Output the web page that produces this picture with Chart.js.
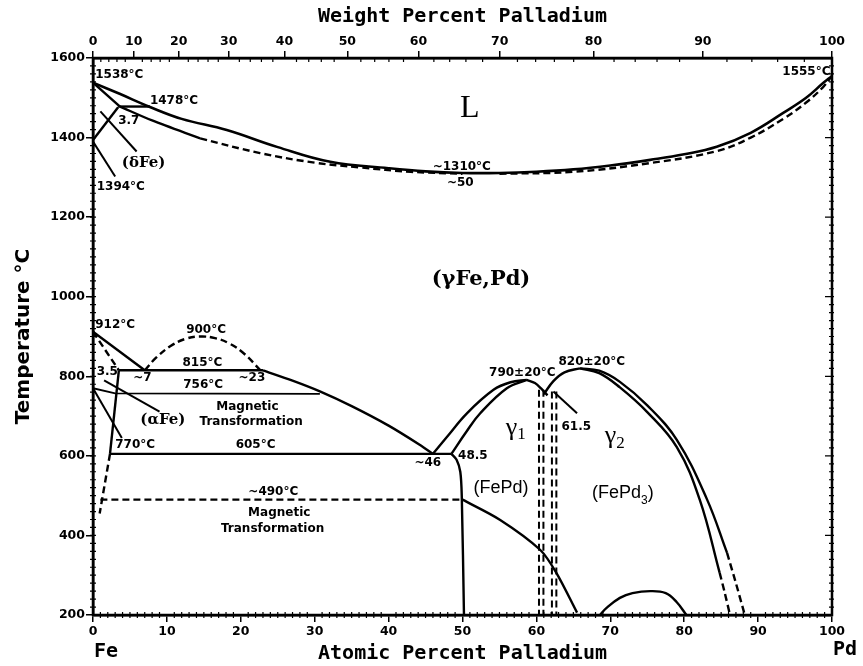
<!DOCTYPE html>
<html>
<head>
<meta charset="utf-8">
<script src="https://cdn.jsdelivr.net/npm/chart.js@4.4.0/dist/chart.umd.min.js"></script>
<style>
  html, body { margin: 0; padding: 0; background: #fff; }
  #wrap { width: 863px; height: 666px; }
</style>
</head>
<body>
<div id="wrap"><canvas id="phaseChart" width="863" height="666"></canvas></div>
<script>
// Top axis tick labels (weight percent Pd)
const wtLabels = [0, 10, 20, 30, 40, 50, 60, 70, 80, 90, 100];
const atomicMassFe = 55.845;
const atomicMassPd = 106.42;

// Phase boundaries, [atomic % Pd, temperature °C]
const liquidus = [[0,1538],[3.6,1510],[7.7,1477],[12,1447],[18.1,1419],[25,1376],[32.1,1339],[40,1323],[45,1315],[50,1311],[55,1311],[60,1314],[65,1320],[70,1330],[75.4,1344],[80,1358],[84.4,1377],[89,1412],[93.4,1462],[96.5,1500],[98.8,1537],[100,1555]];
const solidusLeft = [[3.65,1478],[8,1443],[14.5,1398]];
const solidusLeftDash = [[14.5,1398],[22.6,1361],[30,1337],[36.1,1325],[43,1314],[50,1309]];
const solidusRightDash = [[55,1309],[65,1314],[75.4,1336],[84.4,1366],[89,1400],[93.4,1447],[96.5,1488],[98.8,1527],[100,1555]];
const deltaSolidus = [[0,1538],[3.65,1478]];
const peritectic = [[3.4,1478],[7.7,1478]];
const deltaGamma = [[0,1394],[3.4,1476]];
const deltaLeader = [[1.0,1466],[5.9,1365]];
const leader1394 = [[0,1390],[3.0,1302]];

const alpha912Dash = [[0,912],[3.5,815]];
const gamma912 = [[0,912],[7,815]];
const dome900 = [[7,815],[8.5,846],[10.5,876],[12.5,894],[14.5,900],[16.5,896],[18.5,882],[20.5,856],[22.6,816]];
const line815 = [[3.5,815],[23,815]];
const gammaAlpha = [[23,815],[27,789],[30.7,762],[35,725],[40,676],[44.2,628],[46,605]];
const curie756 = [[0,770],[3,757],[30.7,756]];
const leaderAlphaFe = [[1.5,790],[9,711]];
const leader770 = [[0,770],[3.9,645]];
const alphaSolid = [[3.5,815],[2.3,605]];
const alphaDash = [[2.3,605],[1.6,530],[0.9,455]];
const line605 = [[2.3,605],[48.5,605]];
const line490 = [[1,490],[50,490]];

const g1OuterLeft = [[46,605],[48,650],[50.6,707],[54.2,766],[56.5,785],[58.7,791]];
const g1InnerLeft = [[48.5,605],[50.5,660],[52.4,707],[56,770],[58.7,791]];
const g1Right = [[58.7,791],[59.8,783],[60.6,770],[61.5,752]];
const leader615 = [[62.3,762],[65.5,707]];
const g2Left = [[61,755],[62.3,788],[63.8,810],[65.9,820]];
const g2OuterRight = [[65.9,820],[68.5,814],[71.3,786],[75,727],[79,640],[83.1,490],[85.8,356]];
const g2OuterDash = [[85.8,356],[87,280],[88.2,200]];
const g2InnerRight = [[65.9,820],[68.5,808],[71.3,772],[75,710],[79,622],[82.1,490],[84.8,306]];
const g2InnerDash = [[84.8,306],[85.5,255],[86.2,200]];
const boundary485 = [[48.5,605],[49.2,590],[49.7,560],[49.9,500],[50.2,200]];
const orderLine = [[50,490],[55.1,439],[60.5,364],[62.7,306],[65.5,206]];
const vDash1a = [[60.35,766],[60.35,200]];
const vDash1b = [[60.95,766],[60.95,200]];
const vDash2a = [[62.1,762],[62.1,200]];
const vDash2b = [[62.7,762],[62.7,200]];
const bottomDome = [[68.6,200],[69.5,218],[71.3,243],[73,255],[75.4,260],[77.5,255],[79,232],[80.3,200]];

// Text labels: [text, atomic %, temperature, style, align]
const labels = [
    ['1538°C', 0.3, 1557, 'num', 'left'],
    ['1478°C', 7.7, 1492, 'num', 'left'],
    ['3.7', 3.4, 1442, 'num', 'left'],
    ['(δFe)', 3.9, 1335, 'numBig', 'left'],
    ['1394°C', 0.5, 1277, 'num', 'left'],
    ['L', 51, 1474, 'L', 'center'],
    ['~1310°C', 49.9, 1327, 'num', 'center'],
    ['~50', 49.7, 1287, 'num', 'center'],
    ['1555°C', 99.8, 1566, 'num', 'right'],
    ['(γFe,Pd)', 52.5, 1042, 'phase', 'center'],
    ['912°C', 0.3, 929, 'num', 'left'],
    ['900°C', 15.3, 917, 'num', 'center'],
    ['815°C', 14.8, 833, 'num', 'center'],
    ['~7', 6.7, 795, 'num', 'center'],
    ['~23', 21.5, 795, 'num', 'center'],
    ['3.5', 0.5, 812, 'num', 'left'],
    ['756°C', 14.9, 778, 'num', 'center'],
    ['Magnetic', 20.9, 724, 'num', 'center'],
    ['Transformation', 21.4, 686, 'num', 'center'],
    ['(αFe)', 6.4, 690, 'numBig', 'left'],
    ['770°C', 5.7, 628, 'num', 'center'],
    ['605°C', 22.0, 628, 'num', 'center'],
    ['~490°C', 24.4, 510, 'num', 'center'],
    ['Magnetic', 25.2, 456, 'num', 'center'],
    ['Transformation', 24.3, 416, 'num', 'center'],
    ['~46', 45.3, 582, 'num', 'center'],
    ['48.5', 49.4, 601, 'num', 'left'],
    ['790±20°C', 58.1, 808, 'num', 'center'],
    ['820±20°C', 67.5, 836, 'num', 'center'],
    ['61.5', 65.4, 673, 'num', 'center']
];

// Labels with a subscript: [main, sub, tail, atomic %, temperature, style]
const subLabels = [
    ['γ', '1', '', 57.2, 670, 'greek'],
    ['γ', '2', '', 70.6, 649, 'greek'],
    ['(FePd)', '', '', 55.2, 519, 'sans'],
    ['(FePd', '3', ')', 71.7, 506, 'sans']
];

const fonts = {
    num: 'bold 12px "DejaVu Sans"',
    numBig: 'bold 15px "DejaVu Serif"',
    L: '32px "Liberation Serif"',
    phase: 'bold 21px "DejaVu Serif"',
    greek: '26px "Liberation Serif"',
    greekSub: '17px "Liberation Serif"',
    sans: '18px "Liberation Sans"',
    sansSub: '12px "Liberation Sans"'
};

/**
 * Convert weight percent Pd to atomic percent Pd
 */
function wtToAt(w) {
    const pd = w / atomicMassPd;
    const fe = (100 - w) / atomicMassFe;
    return 100 * pd / (pd + fe);
}

function curve(points, dashed, tension, width) {
    return {
        data: points.map(p => ({ x: p[0], y: p[1] })),
        showLine: true,
        borderColor: '#000',
        borderWidth: width || 2.4,
        borderDash: dashed ? [7, 4] : [],
        pointRadius: 0,
        tension: tension || 0,
        fill: false
    };
}

const datasets = [
    curve(liquidus, false, 0.4, 2.6),
    curve(solidusLeft, false, 0.3),
    curve(solidusLeftDash, true, 0.4),
    curve(solidusRightDash, true, 0.4),
    curve(deltaSolidus, false),
    curve(peritectic, false),
    curve(deltaGamma, false),
    curve(deltaLeader, false, 0, 2),
    curve(leader1394, false, 0, 2),
    curve(alpha912Dash, true),
    curve(gamma912, false),
    curve(dome900, true, 0.4),
    curve(line815, false),
    curve(gammaAlpha, false, 0.3),
    curve(curie756, false, 0, 1.8),
    curve(leaderAlphaFe, false, 0, 2),
    curve(leader770, false, 0, 2),
    curve(alphaSolid, false),
    curve(alphaDash, true),
    curve(line605, false),
    curve(line490, true),
    curve(g1OuterLeft, false, 0.4),
    curve(g1InnerLeft, false, 0.4),
    curve(g1Right, false, 0.3),
    curve(leader615, false, 0, 2),
    curve(g2Left, false, 0.4),
    curve(g2OuterRight, false, 0.4),
    curve(g2OuterDash, true, 0.2),
    curve(g2InnerRight, false, 0.4),
    curve(g2InnerDash, true, 0.2),
    curve(boundary485, false, 0.3),
    curve(orderLine, false, 0.3),
    curve(vDash1a, true, 0, 2),
    curve(vDash1b, true, 0, 2),
    curve(vDash2a, true, 0, 2),
    curve(vDash2b, true, 0, 2),
    curve(bottomDome, false, 0.4)
];

// Frame, minor ticks, end labels and annotations
const decorations = {
    id: 'decorations',
    afterDatasetsDraw(chart) {
        const ctx = chart.ctx;
        const area = chart.chartArea;
        const xs = chart.scales.x;
        const ys = chart.scales.y;
        ctx.save();
        ctx.strokeStyle = '#000';
        ctx.fillStyle = '#000';

        // minor ticks
        ctx.lineWidth = 1.2;
        ctx.beginPath();
        for (let a = 1; a < 100; a++) {
            if (a % 10 === 0) continue;
            const px = xs.getPixelForValue(a);
            ctx.moveTo(px, area.bottom - 3);
            ctx.lineTo(px, area.bottom + 3);
        }
        for (let w = 2; w < 100; w += 2) {
            if (w % 10 === 0) continue;
            const px = xs.getPixelForValue(wtToAt(w));
            ctx.moveTo(px, area.top);
            ctx.lineTo(px, area.top + 4);
        }
        for (let t = 220; t < 1600; t += 20) {
            const py = ys.getPixelForValue(t);
            const len = t % 200 === 0 ? 7 : 3;
            ctx.moveTo(area.left - 3, py);
            ctx.lineTo(area.left + 3, py);
            ctx.moveTo(area.right - len, py);
            ctx.lineTo(area.right + 2, py);
        }
        ctx.stroke();

        // frame
        ctx.lineWidth = 2.5;
        ctx.strokeRect(area.left, area.top, area.right - area.left, area.bottom - area.top);

        // element names under the axis
        ctx.font = 'bold 20px "DejaVu Sans Mono"';
        ctx.textBaseline = 'middle';
        ctx.textAlign = 'left';
        ctx.fillText('Fe', area.left + 1, 652);
        ctx.fillText('Pd', area.right + 1, 650);

        // annotations
        labels.forEach(function(l) {
            ctx.font = fonts[l[3]];
            ctx.textAlign = l[4];
            ctx.fillText(l[0], xs.getPixelForValue(l[1]), ys.getPixelForValue(l[2]));
        });

        subLabels.forEach(function(s) {
            const mainFont = fonts[s[5]];
            const subFont = fonts[s[5] + 'Sub'];
            ctx.font = mainFont;
            const w1 = ctx.measureText(s[0]).width;
            const w3 = ctx.measureText(s[2]).width;
            ctx.font = subFont;
            const w2 = ctx.measureText(s[1]).width;
            const cx = xs.getPixelForValue(s[3]);
            const cy = ys.getPixelForValue(s[4]);
            let x = cx - (w1 + w2 + w3) / 2;
            ctx.textAlign = 'left';
            ctx.font = mainFont;
            ctx.fillText(s[0], x, cy);
            x += w1;
            ctx.font = subFont;
            ctx.fillText(s[1], x, cy + 7);
            x += w2;
            ctx.font = mainFont;
            ctx.fillText(s[2], x, cy);
        });
        ctx.restore();
    }
};

const tickFont = { family: 'DejaVu Sans', size: 12.5, weight: 'bold' };
const titleFont = { family: 'DejaVu Sans Mono', size: 20, weight: 'bold' };

new Chart(document.getElementById('phaseChart').getContext('2d'), {
    type: 'scatter',
    data: { datasets: datasets },
    options: {
        responsive: false,
        animation: false,
        events: [],
        devicePixelRatio: 1,
        layout: { padding: { left: 0, right: 31, top: 0, bottom: 0 } },
        plugins: { legend: { display: false }, tooltip: { enabled: false } },
        scales: {
            x: {
                type: 'linear',
                position: 'bottom',
                min: 0,
                max: 100,
                ticks: { stepSize: 10, color: '#000', font: tickFont, padding: 2, maxRotation: 0,
                    callback: function(value) { return String(value); } },
                grid: { drawOnChartArea: false, tickLength: 7, color: '#000', lineWidth: 1.5 },
                border: { display: true, color: '#000', width: 2.5 },
                title: { display: true, text: 'Atomic Percent Palladium', color: '#000', font: titleFont, padding: { top: 2, bottom: 0 } },
                afterFit: function(scale) { scale.height = 51; }
            },
            xTop: {
                type: 'linear',
                position: 'top',
                min: 0,
                max: 100,
                afterBuildTicks: function(scale) {
                    scale.ticks = wtLabels.map(w => ({ value: wtToAt(w) }));
                },
                ticks: {
                    color: '#000',
                    font: tickFont,
                    padding: 2,
                    maxRotation: 0,
                    autoSkip: false,
                    callback: function(value, index) { return String(wtLabels[index]); }
                },
                grid: { drawOnChartArea: false, tickLength: 7, color: '#000', lineWidth: 1.5 },
                border: { display: true, color: '#000', width: 2.5 },
                title: { display: true, text: 'Weight Percent Palladium', color: '#000', font: titleFont, padding: { top: 5, bottom: 0 } },
                afterFit: function(scale) { scale.height = 58; }
            },
            y: {
                type: 'linear',
                min: 200,
                max: 1600,
                ticks: { stepSize: 200, color: '#000', font: tickFont, padding: 1,
                    callback: function(value) { return String(value); } },
                grid: { drawOnChartArea: false, tickLength: 7, color: '#000', lineWidth: 1.5 },
                border: { display: true, color: '#000', width: 2.5 },
                title: { display: true, text: 'Temperature °C', color: '#000', font: { family: 'DejaVu Sans', size: 20, weight: 'bold' }, padding: { top: 12, bottom: 0 } },
                afterFit: function(scale) { scale.width = 93; }
            }
        }
    },
    plugins: [decorations]
});
</script>
</body>
</html>
